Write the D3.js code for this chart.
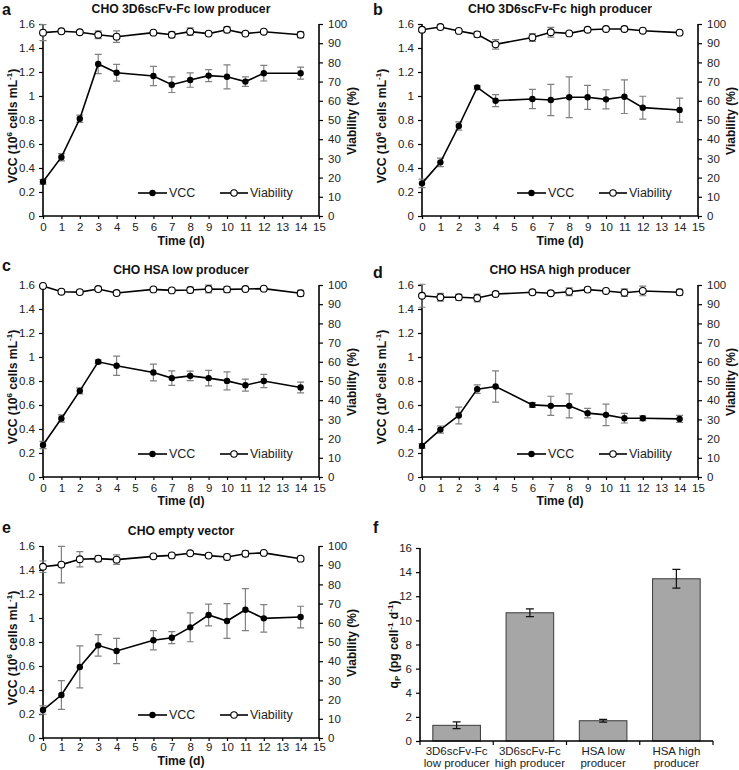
<!DOCTYPE html>
<html><head><meta charset="utf-8">
<script src="https://cdn.jsdelivr.net/npm/d3@7"></script>
<style>
body{margin:0;background:#fff;}
svg{display:block;font-family:"Liberation Sans",Arial,sans-serif;}
</style></head>
<body><svg id="c" width="739" height="770"></svg>
<script>
// ---- data ----
const days = [0,1,2,3,4,6,7,8,9,10,11,12,14];
const xTicks = d3.range(0,16);
const vccTicks = [0,0.2,0.4,0.6,0.8,1,1.2,1.4,1.6];
const viaTicks = [0,10,20,30,40,50,60,70,80,90,100];

const titles = ["CHO 3D6scFv-Fc low producer","CHO 3D6scFv-Fc high producer","CHO HSA low producer","CHO HSA high producer","CHO empty vector"];
const letters = ["a","b","c","d","e"];

const aVcc    = [0.286,0.49,0.81,1.267,1.194,1.167,1.094,1.133,1.17,1.16,1.12,1.19,1.19];
const aVccErr = [0.02,0.03,0.03,0.08,0.07,0.08,0.065,0.06,0.05,0.1,0.04,0.065,0.05];
const aVia    = [95.5,96.2,95.7,94.4,93.4,95.5,94.4,96,95,97,95,96,94.4];
const aViaErr = [4.2,0.5,0.5,2,3,0.5,1.5,2,0.5,1.5,0.5,0.5,1.5];

const bVcc    = [0.272,0.447,0.75,1.072,0.961,0.975,0.967,0.989,0.989,0.972,0.994,0.903,0.883];
const bVccErr = [0.035,0.035,0.035,0.015,0.05,0.08,0.13,0.17,0.1,0.08,0.14,0.095,0.1];
const bVia    = [97,98.4,96.4,94.6,89.4,93,95.7,95.1,97,97.4,97.4,96.5,95.5];
const bViaErr = [1,0.3,0.5,1.5,2.5,2,2.5,0.5,0.5,0.5,1,0.5,0.5];

const cVcc    = [0.267,0.487,0.718,0.96,0.927,0.871,0.824,0.843,0.824,0.801,0.765,0.80,0.746];
const cVccErr = [0.03,0.03,0.025,0.015,0.08,0.07,0.06,0.04,0.065,0.075,0.05,0.055,0.045];
const cVia    = [99.5,96.5,96.3,97.9,95.8,97.7,97.2,97.4,97.9,97.7,97.9,98.1,95.7];
const cViaErr = [0.5,1,1,1,1,0.5,0.5,1.5,2,1.5,0.5,0.5,1.5];

const dVcc    = [0.259,0.395,0.513,0.732,0.754,0.601,0.593,0.593,0.532,0.518,0.49,0.49,0.484];
const dVccErr = [0.02,0.03,0.07,0.035,0.13,0.02,0.08,0.1,0.04,0.09,0.04,0.02,0.03];
const dVia    = [94.4,93.6,93.6,93.2,95.3,96.2,95.7,96.5,97.6,96.9,96,96.9,96.2];
const dViaErr = [6,2,1.5,2,1,1,1,2,1,0.5,2,2.5,1.5];

const eVcc    = [0.233,0.358,0.592,0.772,0.725,0.814,0.836,0.922,1.025,0.975,1.069,0.997,1.008];
const eVccErr = [0.035,0.12,0.175,0.09,0.105,0.08,0.05,0.12,0.09,0.145,0.175,0.115,0.09];
const eVia    = [89.2,90.3,93.1,93.4,92.9,94.6,95.1,96.2,95,94.3,96,96.4,93.4];
const eViaErr = [3,9.5,4,1.5,2.5,0.5,0.5,0.5,1,1.5,1.5,0.5,1];

const qpCategories = [["3D6scFv-Fc","low producer"],["3D6scFv-Fc","high producer"],["HSA low","producer"],["HSA high","producer"]];
const qpValues = [1.3,10.63,1.68,13.45];
const qpErrors = [0.28,0.32,0.12,0.78];
const qpTicks = [0,2,4,6,8,10,12,14,16];

// ---- drawing ----
const svg = d3.select("#c");
const GREY = "#808080";

function linePanel(p){
  const g = svg.append("g");
  const x = d3.scaleLinear().domain([0,15]).range([p.x0,p.x1]);
  const yL = d3.scaleLinear().domain([0,1.6]).range([p.yB,p.yT]);
  const yR = d3.scaleLinear().domain([0,100]).range([p.yB,p.yT]);

  const ax = g.append("g").attr("transform",`translate(0,${p.yB})`)
    .call(d3.axisBottom(x).tickValues(xTicks).tickSize(3).tickPadding(p.tickPad).tickFormat(d3.format("d")));
  const al = g.append("g").attr("transform",`translate(${p.x0},0)`)
    .call(d3.axisLeft(yL).tickValues(vccTicks).tickSize(4).tickPadding(4).tickFormat(d=>String(d)));
  const ar = g.append("g").attr("transform",`translate(${p.x1},0)`)
    .call(d3.axisRight(yR).tickValues(viaTicks).tickSize(4).tickPadding(5).tickFormat(d3.format("d")));
  [ax,al,ar].forEach(a=>{
    a.select(".domain").attr("stroke","#000").attr("stroke-width",1.6);
    a.selectAll(".tick line").attr("stroke","#000").attr("stroke-width",1.2);
    a.selectAll("text").attr("font-size",11.5).attr("fill","#222");
  });
  ax.select(".domain").attr("d",`M${p.x0},0H${p.x1}`);
  al.select(".domain").attr("d",`M0,${p.yB}V${p.yT}`);
  ar.select(".domain").attr("d",`M0,${p.yB}V${p.yT}`);

  function errs(vals,errsArr,y){
    const eg = g.append("g").attr("stroke",GREY).attr("stroke-width",1.2).attr("fill","none");
    vals.forEach((v,i)=>{
      const cx = x(days[i]), t = y(v+errsArr[i]), bot = y(v-errsArr[i]);
      eg.append("path").attr("d",`M${cx},${t}V${bot}M${cx-3.5},${t}H${cx+3.5}M${cx-3.5},${bot}H${cx+3.5}`);
    });
  }
  errs(p.vcc,p.vccErr,yL);
  errs(p.via,p.viaErr,yR);

  const lineL = d3.line().x((d,i)=>x(days[i])).y(d=>yL(d));
  const lineR = d3.line().x((d,i)=>x(days[i])).y(d=>yR(d));
  g.append("path").attr("d",lineL(p.vcc)).attr("fill","none").attr("stroke","#000").attr("stroke-width",1.6);
  g.append("path").attr("d",lineR(p.via)).attr("fill","none").attr("stroke","#000").attr("stroke-width",1.6);
  g.selectAll(".pv").data(p.vcc).join("circle").attr("cx",(d,i)=>x(days[i])).attr("cy",d=>yL(d)).attr("r",3.2).attr("fill","#000");
  g.selectAll(".pr").data(p.via).join("circle").attr("cx",(d,i)=>x(days[i])).attr("cy",d=>yR(d)).attr("r",3.4).attr("fill","#fff").attr("stroke","#000").attr("stroke-width",1.1);

  const ly = p.yB - 23;
  g.append("line").attr("x1",p.x0+95).attr("x2",p.x0+124).attr("y1",ly).attr("y2",ly).attr("stroke","#000").attr("stroke-width",1.6);
  g.append("circle").attr("cx",p.x0+109.5).attr("cy",ly).attr("r",3.2).attr("fill","#000");
  g.append("text").attr("x",p.x0+126).attr("y",ly+4.3).attr("font-size",12.5).attr("fill","#222").text("VCC");
  g.append("line").attr("x1",p.x0+177).attr("x2",p.x0+205).attr("y1",ly).attr("y2",ly).attr("stroke","#000").attr("stroke-width",1.6);
  g.append("circle").attr("cx",p.x0+191).attr("cy",ly).attr("r",3.2).attr("fill","#fff").attr("stroke","#000").attr("stroke-width",1.1);
  g.append("text").attr("x",p.x0+207).attr("y",ly+4.3).attr("font-size",12.5).attr("fill","#222").text("Viability");

  g.append("text").attr("x",(p.x0+p.x1)/2).attr("y",p.yT-11).attr("text-anchor","middle").attr("font-size",12.2).attr("font-weight","bold").attr("fill","#111").text(p.title);
  g.append("text").attr("x",p.lx).attr("y",p.ly).attr("font-size",16).attr("font-weight","bold").attr("fill","#111").text(p.letter);
  g.append("text").attr("x",(p.x0+p.x1)/2).attr("y",p.yB+p.timeOff).attr("text-anchor","middle").attr("font-size",12.2).attr("font-weight","bold").attr("fill","#111").text("Time (d)");
  const yl = g.append("text").attr("transform",`translate(${p.x0+p.ylOff},${(p.yT+p.yB)/2+6}) rotate(-90)`).attr("text-anchor","middle").attr("font-size",12.2).attr("font-weight","bold").attr("fill","#111");
  yl.append("tspan").text("VCC (10");
  yl.append("tspan").attr("font-size",8).attr("dy",-5).text("6");
  yl.append("tspan").attr("dy",5).text(" cells mL");
  yl.append("tspan").attr("font-size",8).attr("dy",-5).text("-1");
  yl.append("tspan").attr("dy",5).text(")");
  g.append("text").attr("transform",`translate(${p.x1+37},${(p.yT+p.yB)/2+1}) rotate(-90)`).attr("text-anchor","middle").attr("font-size",12).attr("font-weight","bold").attr("fill","#111").text("Viability (%)");
}

linePanel({x0:43,x1:319,yT:24,yB:216,tickPad:4,timeOff:29,ylOff:-26,lx:2,ly:15,title:titles[0],letter:letters[0],vcc:aVcc,vccErr:aVccErr,via:aVia,viaErr:aViaErr});
linePanel({x0:422,x1:698,yT:24,yB:216,tickPad:4,timeOff:29,ylOff:-36,lx:373,ly:15,title:titles[1],letter:letters[1],vcc:bVcc,vccErr:bVccErr,via:bVia,viaErr:bViaErr});
linePanel({x0:43,x1:319,yT:285,yB:477,tickPad:4,timeOff:28,ylOff:-26,lx:2,ly:271,title:titles[2],letter:letters[2],vcc:cVcc,vccErr:cVccErr,via:cVia,viaErr:cViaErr});
linePanel({x0:422,x1:698,yT:285,yB:477,tickPad:4,timeOff:28,ylOff:-36,lx:373,ly:278,title:titles[3],letter:letters[3],vcc:dVcc,vccErr:dVccErr,via:dVia,viaErr:dViaErr});
linePanel({x0:43,x1:319,yT:546,yB:738,tickPad:2,timeOff:27,ylOff:-26,lx:2,ly:533,title:titles[4],letter:letters[4],vcc:eVcc,vccErr:eVccErr,via:eVia,viaErr:eViaErr});

// ---- panel f ----
(function(){
  const x0=420,x1=713,yT=548,yB=741;
  const g = svg.append("g");
  const x = d3.scaleBand().domain(d3.range(qpValues.length)).range([x0,x1]).paddingInner(0.35).paddingOuter(0.175);
  const y = d3.scaleLinear().domain([0,16]).range([yB,yT]);
  const al = g.append("g").attr("transform",`translate(${x0},0)`)
    .call(d3.axisLeft(y).tickValues(qpTicks).tickSize(4).tickPadding(4));
  al.select(".domain").attr("d",`M0,${yB}V${yT}`).attr("stroke","#000").attr("stroke-width",1.6);
  al.selectAll(".tick line").attr("stroke","#000").attr("stroke-width",1.2);
  al.selectAll("text").attr("font-size",11.5).attr("fill","#222");
  g.selectAll(".bar").data(qpValues).join("rect")
    .attr("x",(d,i)=>x(i)).attr("width",x.bandwidth()).attr("y",d=>y(d)).attr("height",d=>yB-y(d))
    .attr("fill","#a6a6a6").attr("stroke","#3a3a3a").attr("stroke-width",1);
  const step = (x1-x0)/qpValues.length;
  g.append("path").attr("d",`M${x0},${yB}H${x1}`).attr("stroke","#000").attr("stroke-width",1.6);
  d3.range(qpValues.length+1).forEach(i=>{
    g.append("line").attr("x1",x0+i*step).attr("x2",x0+i*step).attr("y1",yB).attr("y2",yB+4).attr("stroke","#000").attr("stroke-width",1.2);
  });
  qpValues.forEach((v,i)=>{
    const cx = x(i)+x.bandwidth()/2, t=y(v+qpErrors[i]), b=y(v-qpErrors[i]);
    g.append("path").attr("d",`M${cx},${t}V${b}M${cx-4},${t}H${cx+4}M${cx-4},${b}H${cx+4}`).attr("stroke","#111").attr("stroke-width",1.2).attr("fill","none");
  });
  qpCategories.forEach((c,i)=>{
    const cx = x0+(i+0.5)*step;
    c.forEach((line,j)=>{
      g.append("text").attr("x",cx).attr("y",yB+14+j*12).attr("text-anchor","middle").attr("font-size",11.5).attr("fill","#222").text(line);
    });
  });
  const yl = g.append("text").attr("transform",`translate(${398},${(yT+yB)/2}) rotate(-90)`).attr("text-anchor","middle").attr("font-size",12.2).attr("font-weight","bold").attr("fill","#111");
  yl.append("tspan").text("q");
  yl.append("tspan").attr("font-size",8).attr("dy",2).text("P");
  yl.append("tspan").attr("dy",-2).text(" (pg cell");
  yl.append("tspan").attr("font-size",8).attr("dy",-5).text("-1");
  yl.append("tspan").attr("dy",5).text(" d");
  yl.append("tspan").attr("font-size",8).attr("dy",-5).text("-1");
  yl.append("tspan").attr("dy",5).text(")");
  g.append("text").attr("x",373).attr("y",533).attr("font-size",16).attr("font-weight","bold").attr("fill","#111").text("f");
})();
</script></body></html>
